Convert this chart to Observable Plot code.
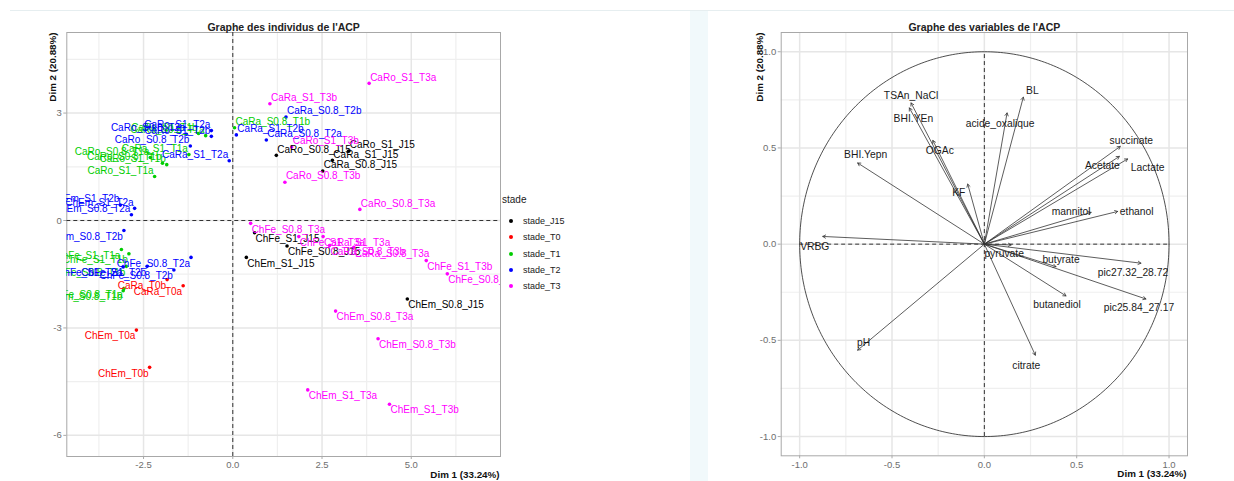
<!DOCTYPE html>
<html>
<head>
<meta charset="utf-8">
<script src="https://cdn.jsdelivr.net/npm/d3@7"></script>
<script src="https://cdn.jsdelivr.net/npm/@observablehq/plot@0.6"></script>
<style>
  html, body { margin: 0; padding: 0; background: #fff; }
  body { width: 1234px; height: 481px; position: relative; overflow: hidden; font-family: "Liberation Sans", Arial, sans-serif; }
  #left, #right { position: absolute; top: 0; }
  #left { left: 0; }
  #right { left: 690px; }
  #strip { position: absolute; left: 690px; top: 11px; width: 18px; height: 470px; background: #f1f9fb; z-index: 2; }
  #topline { position: absolute; left: 10px; top: 10px; width: 1224px; height: 1px; background: #e6eef0; z-index: 2; }
  #legend { position: absolute; left: 502px; top: 194px; font-size: 10px; color: #1a1a1a; z-index: 3; }
  #legend .ttl { position: absolute; left: 0; top: 0; white-space: nowrap; }
  #legend .it { position: absolute; left: 6px; white-space: nowrap; font-size: 9px; height: 12px; line-height: 12px; }
  #legend .dot { position: absolute; left: 1px; top: 4px; width: 4px; height: 4px; border-radius: 50%; }
  #legend .lab { position: absolute; left: 15px; top: 0; }
</style>
</head>
<body>
<div id="topline"></div>
<div id="strip"></div>
<div id="left"></div>
<div id="right"></div>
<div id="legend"></div>
<script>
// ---------------- DATA ----------------
const stades = ["stade_J15", "stade_T0", "stade_T1", "stade_T2", "stade_T3"];
const stadeColors = ["#000000", "#FF0000", "#00CD00", "#0000FF", "#FF00FF"];

const indNames = [
  "CaRo_S1_J15", "CaRo_S0.8_J15", "CaRa_S1_J15", "CaRa_S0.8_J15", "ChFe_S1_J15", "ChFe_S0.8_J15", "ChEm_S1_J15", "ChEm_S0.8_J15",
  "CaRa_T0a", "CaRa_T0b", "ChEm_T0a", "ChEm_T0b",
  "CaRa_S0.8_T1b", "CaRa_S0.8_T1a", "CaRa_S1_T1b", "CaRa_S1_T1a", "CaRo_S0.8_T1a", "CaRo_S0.8_T1b", "CaRo_S1_T1b", "CaRo_S1_T1a",
  "ChFe_S1_T1a", "ChFe_S1_T1b", "ChFe_S0.8_T1a", "ChFe_S0.8_T1b", "ChEm_S0.8_T1b",
  "CaRo_S1_T2a", "CaRo_S1_T2b", "CaRo_S0.8_T2a", "CaRo_S0.8_T2b", "CaRa_S1_T2a", "CaRa_S1_T2b", "CaRa_S0.8_T2a", "CaRa_S0.8_T2b",
  "ChFe_S0.8_T2a", "ChFe_S0.8_T2b", "ChFe_S1_T2a", "ChFe_S1_T2b", "ChEm_S1_T2a", "ChEm_S1_T2b", "ChEm_S0.8_T2a", "ChEm_S0.8_T2b",
  "CaRo_S1_T3a", "CaRo_S1_T3b", "CaRo_S0.8_T3a", "CaRo_S0.8_T3b", "CaRa_S1_T3a", "CaRa_S1_T3b", "CaRa_S0.8_T3a", "CaRa_S0.8_T3b",
  "ChFe_S1_T3a", "ChFe_S1_T3b", "ChFe_S0.8_T3a", "ChFe_S0.8_T3b", "ChEm_S1_T3a", "ChEm_S1_T3b", "ChEm_S0.8_T3a", "ChEm_S0.8_T3b"
];
const indDim1 = [
  3.25, 1.22, 2.79, 2.52, 0.61, 1.52, 0.38, 4.89,
  -1.39, -1.84, -2.70, -2.33,
  0.05, -0.76, -0.96, -1.23, -2.31, -1.97, -1.85, -2.19,
  -3.12, -2.91, -3.05, -2.98, -3.07,
  -0.60, -0.60, -1.30, -1.19, -0.10, 0.10, 0.94, 1.49,
  -1.17, -1.65, -3.07, -2.40, -2.75, -3.15, -2.84, -3.05,
  3.82, 1.65, 3.56, 1.46, 2.53, 1.04, 3.39, 2.71,
  1.85, 5.42, 0.50, 6.01, 2.10, 4.39, 2.88, 4.07
];
const indDim2 = [
  1.94, 1.82, 1.68, 1.38, -0.34, -0.71, -1.03, -2.19,
  -1.82, -1.65, -3.06, -4.10,
  2.59, 2.37, 2.43, 1.84, 1.76, 1.60, 1.56, 1.23,
  -0.81, -0.93, -1.90, -1.28, -1.96,
  2.51, 2.35, 2.41, 2.08, 1.67, 2.39, 2.25, 2.89,
  -1.03, -1.38, -1.30, -1.28, 0.34, 0.43, 0.16, -0.28,
  3.83, 2.05, 0.31, 1.07, -0.45, 3.26, -0.75, -0.70,
  -0.45, -1.12, -0.08, -1.49, -4.73, -5.13, -2.53, -3.30
];
const indStade = [
  ...Array(8).fill("stade_J15"),
  ...Array(4).fill("stade_T0"),
  ...Array(13).fill("stade_T1"),
  ...Array(16).fill("stade_T2"),
  ...Array(16).fill("stade_T3")
];
// label side: ar = above right, br = below right, al = above left, bl = below left
const indLabelSide = [
  "ar", "ar", "ar", "ar", "br", "br", "br", "br",
  "bl", "bl", "bl", "bl",
  "ar", "al", "al", "al", "al", "al", "al", "al",
  "bl", "bl", "bl", "bl", "bl",
  "al", "al", "al", "al", "al", "ar", "ar", "ar",
  "bl", "bl", "bl", "bl", "al", "al", "al", "bl",
  "ar", "ar", "ar", "ar", "br", "ar", "br", "br",
  "br", "br", "br", "br", "br", "br", "br", "br"
];

const varNames = ["TSAn_NaCl", "BHI.YEn", "OGAc", "KF", "BL", "acide_oxalique", "BHI.Yepn", "succinate", "Acetate", "Lactate",
  "mannitol", "ethanol", "VRBG", "pyruvate", "butyrate", "pic27.32_28.72", "pic25.84_27.17", "butanediol", "citrate", "pH"];
const varDim1 = [-0.397, -0.406, -0.279, -0.090, 0.211, 0.123, -0.686, 0.736, 0.731, 0.776,
  0.578, 0.722, -0.875, 0.145, 0.388, 0.848, 0.875, 0.442, 0.276, -0.686];
const varDim2 = [0.734, 0.708, 0.539, 0.312, 0.764, 0.682, 0.422, 0.508, 0.456, 0.443,
  0.165, 0.170, 0.040, -0.004, -0.117, -0.099, -0.285, -0.269, -0.577, -0.551];

const indXMajor = [-2.5, 0, 2.5, 5];
const indXMinor = [-3.75, -1.25, 1.25, 3.75, 6.25];
const indYMajor = [-6, -3, 0, 3];
const indYMinor = [-4.5, -1.5, 1.5, 4.5];
const varMajor = [-1, -0.5, 0, 0.5, 1];
const varMinor = [-0.75, -0.25, 0.25, 0.75];

const titleInd = "Graphe des individus de l'ACP";
const titleVar = "Graphe des variables de l'ACP";
const xTitle = "Dim 1 (33.24%)";
const yTitle = "Dim 2 (20.88%)";
const legendTitle = "stade";

// ---------------- LAYOUT / STYLE ----------------
const FONT = "'Liberation Sans', Arial, sans-serif";
const sideStyle = {
  ar: {textAnchor: "start", dx: 1, dy: -6},
  br: {textAnchor: "start", dx: 1, dy: 6},
  al: {textAnchor: "end", dx: -1, dy: -6},
  bl: {textAnchor: "end", dx: -1, dy: 6}
};
const varNudge = {
  "TSAn_NaCl": [0, -7], "BHI.YEn": [4, 11], "OGAc": [7, 10], "KF": [-9, 9], "BL": [9, -6],
  "acide_oxalique": [-7, 11], "BHI.Yepn": [8, -8], "succinate": [11, -6], "Acetate": [-17, 9],
  "Lactate": [20, 9], "mannitol": [-20, -1], "ethanol": [19, 0], "VRBG": [-8, 10], "pyruvate": [-7, 9],
  "butyrate": [5, -7], "pic27.32_28.72": [-8, 10], "pic25.84_27.17": [-7, 9], "butanediol": [-9, 9],
  "citrate": [-9, 11], "pH": [6, -7]
};
const fmt1 = d => d.toFixed(1);
const fmt0 = d => String(d);

function gridMarks(xMaj, xMin, yMaj, yMin) {
  return [
    Plot.ruleX(xMin, {stroke: "#efefef", strokeWidth: 1.2}),
    Plot.ruleY(yMin, {stroke: "#efefef", strokeWidth: 1.2}),
    Plot.ruleX(xMaj, {stroke: "#e6e6e6", strokeWidth: 1.5}),
    Plot.ruleY(yMaj, {stroke: "#e6e6e6", strokeWidth: 1.5})
  ];
}
function axisMarks(xMaj, yMaj, xf, yf) {
  return [
    Plot.axisX(xMaj, {tickSize: 3, tickPadding: 2, tickFormat: xf, fontSize: 9.5, fill: "#6e6e6e", stroke: "#aaa", label: null}),
    Plot.axisY(yMaj, {tickSize: 3, tickPadding: 2, tickFormat: yf, fontSize: 9.5, fill: "#6e6e6e", stroke: "#aaa", label: null})
  ];
}
function titleMarks(title, yDx) {
  return [
    Plot.text([title], {frameAnchor: "top", dy: -9, text: d => d, fontWeight: "bold", fontSize: 10.5, fill: "#222"}),
    Plot.text([xTitle], {frameAnchor: "bottom-right", textAnchor: "end", dx: -1, dy: 21, text: d => d, fontWeight: "bold", fontSize: 9.8, fill: "#111"}),
    Plot.text([yTitle], {frameAnchor: "top-left", textAnchor: "end", rotate: -90, dx: yDx, text: d => d, fontWeight: "bold", fontSize: 9.8, fill: "#111"})
  ];
}

// ---------------- INDIVIDUALS ----------------
const inds = indNames.map((n, i) => ({name: n, x: indDim1[i], y: indDim2[i], stade: indStade[i], side: indLabelSide[i]}));

const left = Plot.plot({
  width: 690, height: 481,
  marginLeft: 66.3, marginRight: 190, marginTop: 32, marginBottom: 25,
  style: {fontFamily: FONT, background: "transparent", overflow: "visible"},
  x: {domain: [-4.65, 7.5], axis: null},
  y: {domain: [-6.59, 5.25], axis: null},
  color: {domain: stades, range: stadeColors},
  marks: [
    ...gridMarks(indXMajor, indXMinor, indYMajor, indYMinor),
    Plot.frame({stroke: "#a8a8a8"}),
    Plot.ruleX([0], {stroke: "#333", strokeDasharray: "4,3", strokeWidth: 1}),
    Plot.ruleY([0], {stroke: "#333", strokeDasharray: "4,3", strokeWidth: 1}),
    Plot.dot(inds, {x: "x", y: "y", fill: "stade", r: 1.8, clip: true}),
    ...Object.entries(sideStyle).map(([k, s]) =>
      Plot.text(inds.filter(d => d.side === k), {x: "x", y: "y", text: "name", fill: "stade", fontSize: 10, clip: true, ...s})
    ),
    ...axisMarks(indXMajor, indYMajor, fmt1, fmt0),
    ...titleMarks(titleInd, -17.3)
  ]
});
document.getElementById("left").appendChild(left);

// legend
const lg = document.getElementById("legend");
const t = document.createElement("div");
t.className = "ttl"; t.textContent = legendTitle; lg.appendChild(t);
stades.forEach((s, i) => {
  const it = document.createElement("div");
  it.className = "it";
  it.style.top = (21 + i * 16.3) + "px";
  const dot = document.createElement("div");
  dot.className = "dot"; dot.style.background = stadeColors[i];
  const lab = document.createElement("div");
  lab.className = "lab"; lab.textContent = s;
  it.appendChild(dot); it.appendChild(lab);
  lg.appendChild(it);
});

// ---------------- VARIABLES ----------------
const vars = varNames.map((n, i) => ({name: n, x: varDim1[i], y: varDim2[i]}));
const circle = d3.range(0, 361).map(a => [Math.cos(a * Math.PI / 180), Math.sin(a * Math.PI / 180)]);

const right = Plot.plot({
  width: 544, height: 481,
  marginLeft: 90.7, marginRight: 47, marginTop: 32, marginBottom: 25.7,
  style: {fontFamily: FONT, background: "transparent", overflow: "visible"},
  x: {domain: [-1.1, 1.1], axis: null},
  y: {domain: [-1.1, 1.1], axis: null},
  marks: [
    ...gridMarks(varMajor, varMinor, varMajor, varMinor),
    Plot.frame({stroke: "#a8a8a8"}),
    Plot.line(circle, {x: d => d[0], y: d => d[1], stroke: "#222", strokeWidth: 0.8}),
    Plot.ruleX([0], {y1: -1, y2: 1, stroke: "#333", strokeDasharray: "4,3", strokeWidth: 1}),
    Plot.ruleY([0], {x1: -1, x2: 1, stroke: "#333", strokeDasharray: "4,3", strokeWidth: 1}),
    Plot.arrow(vars, {x1: () => 0, y1: () => 0, x2: "x", y2: "y", stroke: "#333", strokeWidth: 0.8, headLength: 6, headAngle: 60}),
    ...vars.map(v => Plot.text([v], {x: "x", y: "y", text: "name", fontSize: 10.3, fill: "#1a1a1a",
      dx: varNudge[v.name][0], dy: varNudge[v.name][1]})),
    ...axisMarks(varMajor, varMajor, fmt1, fmt1),
    ...titleMarks(titleVar, -24.7)
  ]
});
document.getElementById("right").appendChild(right);
</script>
</body>
</html>
